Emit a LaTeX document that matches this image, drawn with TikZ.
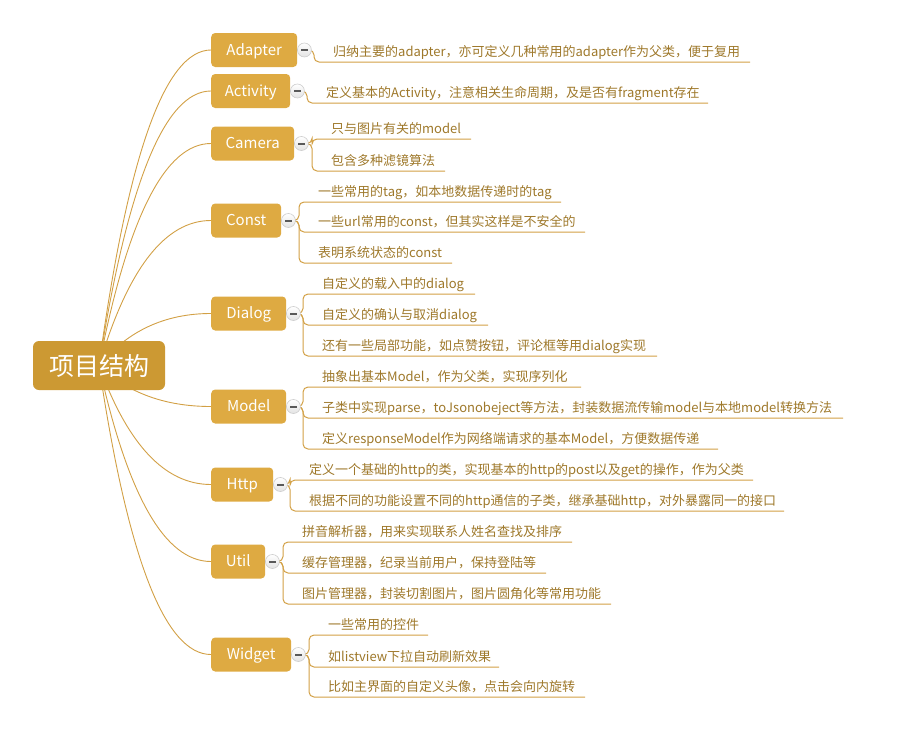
\documentclass[tikz,border=0pt]{standalone}
\usepackage{fontspec}
\setmainfont{Noto Sans CJK SC}
\usetikzlibrary{calc,backgrounds}
\definecolor{rootfill}{HTML}{CC9933}
\definecolor{branchfill}{HTML}{DEAA42}
\definecolor{linkcol}{HTML}{D2A045}
\definecolor{leafcol}{HTML}{9E782A}
\tikzset{
  rootbox/.style={fill=rootfill, rounded corners=6pt, minimum width=132pt, minimum height=49pt,
    text=white, font=\fontsize{25}{28}\selectfont, inner sep=0pt},
  branchbox/.style={fill=branchfill, rounded corners=4pt, minimum height=34pt, anchor=west,
    text=white, font=\fontsize{15}{18}\selectfont, inner sep=0pt, text height=10.8pt, text depth=0pt},
  toggle/.style={circle, minimum size=14pt, inner sep=0pt, draw=gray!40, line width=0.6pt,
    top color=white, bottom color=gray!22,
    path picture={\draw[line width=2pt, gray!70!black] ([xshift=-3.2pt]path picture bounding box.center) -- ([xshift=3.2pt]path picture bounding box.center);}},
  leaf/.style={anchor=base west, inner sep=0pt, text=leafcol, font=\fontsize{13}{15}\selectfont},
  link/.style={draw=linkcol, line width=0.9pt},
  leaflink/.style={draw=linkcol, line width=1pt, rounded corners=5pt},
}
\begin{document}
\begin{tikzpicture}[x=1pt,y=-1pt]
\useasboundingbox (0,0) rectangle (897,731);
\node[rootbox] (root) at (99,365.5) {项目结构};
% branches
\node[branchbox, minimum width=86pt] (adapter) at (211,50) {Adapter};
\node[branchbox, minimum width=79pt] (activity) at (211,91) {Activity};
\node[branchbox, minimum width=83pt] (camera) at (211,143.5) {Camera};
\node[branchbox, minimum width=70pt] (const) at (211,220.5) {Const};
\node[branchbox, minimum width=75pt] (dialog) at (211,313.5) {Dialog};
\node[branchbox, minimum width=75pt] (model) at (211,406.5) {Model};
\node[branchbox, minimum width=62pt] (http) at (211,484.5) {Http};
\node[branchbox, minimum width=54pt] (util) at (211,561.5) {Util};
\node[branchbox, minimum width=80pt] (widget) at (211,654.5) {Widget};
% toggles
\foreach \b in {adapter,activity,camera,const,dialog,model,http,util,widget}
  \node[toggle] (\b T) at ([xshift=7pt]\b.east) {};
% leaves: text at (vx+19, uy-6)
\node[leaf] (a1) at (333,56) {归纳主要的adapter，亦可定义几种常用的adapter作为父类，便于复用};
\coordinate (a1e) at (750,62);
\node[leaf] (ac1) at (326,97) {定义基本的Activity，注意相关生命周期，及是否有fragment存在};
\coordinate (ac1e) at (708,103);
\node[leaf] (c1) at (331,133) {只与图片有关的model};
\coordinate (c1e) at (471,139);
\node[leaf] (c2) at (331,165) {包含多种滤镜算法};
\coordinate (c2e) at (445,171);
\node[leaf] (k1) at (318,196) {一些常用的tag，如本地数据传递时的tag};
\coordinate (k1e) at (561,202);
\node[leaf] (k2) at (318,226) {一些url常用的const，但其实这样是不安全的};
\coordinate (k2e) at (585,232);
\node[leaf] (k3) at (318,257) {表明系统状态的const};
\coordinate (k3e) at (452,263);
\node[leaf] (d1) at (322,288) {自定义的载入中的dialog};
\coordinate (d1e) at (475,294);
\node[leaf] (d2) at (322,319) {自定义的确认与取消dialog};
\coordinate (d2e) at (488,325);
\node[leaf] (d3) at (322,350) {还有一些局部功能，如点赞按钮，评论框等用dialog实现};
\coordinate (d3e) at (657,356);
\node[leaf] (m1) at (322,381) {抽象出基本Model，作为父类，实现序列化};
\coordinate (m1e) at (581,387);
\node[leaf] (m2) at (322,412) {子类中实现parse，toJsonobeject等方法，封装数据流传输model与本地model转换方法};
\coordinate (m2e) at (843,418);
\node[leaf] (m3) at (322,443) {定义responseModel作为网络端请求的基本Model，方便数据传递};
\coordinate (m3e) at (718,449);
\node[leaf] (h1) at (309,474) {定义一个基础的http的类，实现基本的http的post以及get的操作，作为父类};
\coordinate (h1e) at (753,480);
\node[leaf] (h2) at (309,505) {根据不同的功能设置不同的http通信的子类，继承基础http，对外暴露同一的接口};
\coordinate (h2e) at (784,511);
\node[leaf] (u1) at (302,536) {拼音解析器，用来实现联系人姓名查找及排序};
\coordinate (u1e) at (572,542);
\node[leaf] (u2) at (302,567) {缓存管理器，纪录当前用户，保持登陆等};
\coordinate (u2e) at (546,573);
\node[leaf] (u3) at (302,598) {图片管理器，封装切割图片，图片圆角化等常用功能};
\coordinate (u3e) at (611,604);
\node[leaf] (w1) at (328,629) {一些常用的控件};
\coordinate (w1e) at (428,635);
\node[leaf] (w2) at (328,661) {如listview下拉自动刷新效果};
\coordinate (w2e) at (499,667);
\node[leaf] (w3) at (328,691) {比如主界面的自定义头像，点击会向内旋转};
\coordinate (w3e) at (585,697);
\begin{pgfonlayer}{background}
  % root curves (quadratic with control (142, y of branch))
  \foreach \b in {adapter,activity,camera,const,dialog,model,http,util,widget}{
    \path (\b.west) coordinate (tmpw);
    \draw[link] (root.center) .. controls ($(root.center)!2/3!(142,0 |- tmpw)$) and ($(tmpw)!2/3!(142,0 |- tmpw)$) .. (\b.west);
  }
  % leaf connectors
  \draw[leaflink] (adapterT.center) -| ([shift={(-19,6)}]a1.base west) -- (a1e);
  \draw[leaflink] (activityT.center) -| ([shift={(-19,6)}]ac1.base west) -- (ac1e);
  \foreach \l in {c1,c2}
    \draw[leaflink] (cameraT.center) -| ([shift={(-19,6)}]\l.base west) -- (\l e);
  \foreach \l in {k1,k2,k3}
    \draw[leaflink] (constT.center) -| ([shift={(-19,6)}]\l.base west) -- (\l e);
  \foreach \l in {d1,d2,d3}
    \draw[leaflink] (dialogT.center) -| ([shift={(-19,6)}]\l.base west) -- (\l e);
  \foreach \l in {m1,m2,m3}
    \draw[leaflink] (modelT.center) -| ([shift={(-19,6)}]\l.base west) -- (\l e);
  \foreach \l in {h1,h2}
    \draw[leaflink] (httpT.center) -| ([shift={(-19,6)}]\l.base west) -- (\l e);
  \foreach \l in {u1,u2,u3}
    \draw[leaflink] (utilT.center) -| ([shift={(-19,6)}]\l.base west) -- (\l e);
  \foreach \l in {w1,w2,w3}
    \draw[leaflink] (widgetT.center) -| ([shift={(-19,6)}]\l.base west) -- (\l e);
\end{pgfonlayer}
\end{tikzpicture}
\end{document}
